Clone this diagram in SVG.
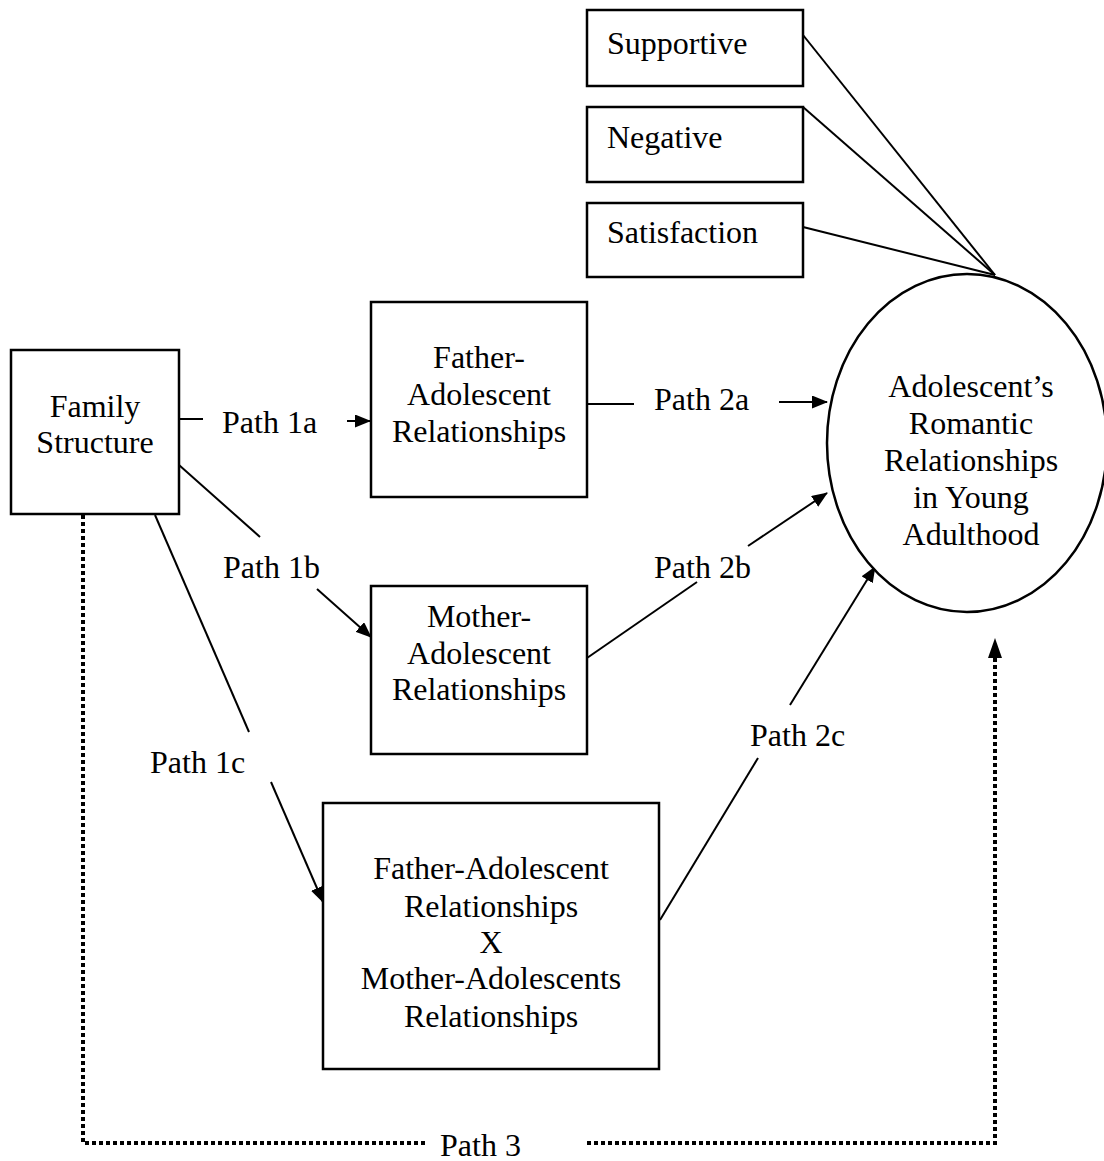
<svg xmlns="http://www.w3.org/2000/svg" width="1104" height="1161" viewBox="0 0 1104 1161">
<style>
.box{fill:#fff;stroke:#000;stroke-width:2.5}
.t{font-family:"Liberation Serif","Times New Roman",serif;font-size:32px;fill:#000}
.c{text-anchor:middle}
.ln{stroke:#000;stroke-width:2;fill:none}
.dot{stroke:#000;stroke-width:4;fill:none;stroke-dasharray:4 3}
</style>
<defs>
<marker id="ah" markerUnits="userSpaceOnUse" markerWidth="16" markerHeight="13" refX="15" refY="6.5" orient="auto">
<path d="M0,0 L16,6.5 L0,13 z" fill="#000"/>
</marker>
</defs>
<rect width="1104" height="1161" fill="#fff"/>
<g id="connectors">
<line class="ln" x1="803" y1="35" x2="995" y2="275"/>
<line class="ln" x1="803" y1="107" x2="995" y2="275"/>
<line class="ln" x1="803" y1="227" x2="995" y2="275"/>
<line class="ln" x1="179" y1="419" x2="203" y2="419"/>
<line class="ln" x1="347" y1="421" x2="370" y2="421" marker-end="url(#ah)"/>
<line class="ln" x1="587" y1="404" x2="634" y2="404"/>
<line class="ln" x1="779" y1="402" x2="827" y2="402" marker-end="url(#ah)"/>
<line class="ln" x1="179" y1="465" x2="260" y2="537"/>
<line class="ln" x1="317" y1="589" x2="371" y2="637" marker-end="url(#ah)"/>
<line class="ln" x1="155" y1="515" x2="249" y2="732"/>
<line class="ln" x1="271" y1="782" x2="323" y2="902" marker-end="url(#ah)"/>
<line class="ln" x1="587" y1="658" x2="697" y2="582"/>
<line class="ln" x1="748" y1="546" x2="827" y2="493" marker-end="url(#ah)"/>
<line class="ln" x1="660" y1="920" x2="758" y2="758"/>
<line class="ln" x1="790" y1="705" x2="875" y2="567" marker-end="url(#ah)"/>
<polyline class="dot" points="83,515 83,1143 425,1143"/>
<polyline class="dot" points="587,1143 995,1143 995,658"/>
<path d="M988,658 L995,638 L1002,658 z" fill="#000"/>
</g>
<g id="supportive">
<rect class="box" x="587" y="10" width="216" height="76"/>
<text class="t" x="607" y="54">Supportive</text>
</g>
<g id="negative">
<rect class="box" x="587" y="107" width="216" height="75"/>
<text class="t" x="607" y="148">Negative</text>
</g>
<g id="satisfaction">
<rect class="box" x="587" y="203" width="216" height="74"/>
<text class="t" x="607" y="243">Satisfaction</text>
</g>
<g id="family-structure">
<rect class="box" x="11" y="350" width="168" height="164"/>
<text class="t c" x="95" y="417">Family</text>
<text class="t c" x="95" y="453">Structure</text>
</g>
<g id="father">
<rect class="box" x="371" y="302" width="216" height="195"/>
<text class="t c" x="479" y="368">Father-</text>
<text class="t c" x="479" y="405">Adolescent</text>
<text class="t c" x="479" y="442">Relationships</text>
</g>
<g id="mother">
<rect class="box" x="371" y="586" width="216" height="168"/>
<text class="t c" x="479" y="627">Mother-</text>
<text class="t c" x="479" y="664">Adolescent</text>
<text class="t c" x="479" y="700">Relationships</text>
</g>
<g id="interaction">
<rect class="box" x="323" y="803" width="336" height="266"/>
<text class="t c" x="491" y="879">Father-Adolescent</text>
<text class="t c" x="491" y="917">Relationships</text>
<text class="t c" x="491" y="953">X</text>
<text class="t c" x="491" y="989">Mother-Adolescents</text>
<text class="t c" x="491" y="1027">Relationships</text>
</g>
<g id="outcome">
<ellipse class="box" cx="967" cy="443" rx="140" ry="169"/>
<text class="t c" x="971" y="397">Adolescent’s</text>
<text class="t c" x="971" y="434">Romantic</text>
<text class="t c" x="971" y="471">Relationships</text>
<text class="t c" x="971" y="508">in Young</text>
<text class="t c" x="971" y="545">Adulthood</text>
</g>
<g id="labels">
<text class="t" x="222" y="433">Path 1a</text>
<text class="t" x="654" y="410">Path 2a</text>
<text class="t" x="223" y="578">Path 1b</text>
<text class="t" x="654" y="578">Path 2b</text>
<text class="t" x="150" y="773">Path 1c</text>
<text class="t" x="750" y="746">Path 2c</text>
<text class="t" x="440" y="1156">Path 3</text>
</g>
</svg>
